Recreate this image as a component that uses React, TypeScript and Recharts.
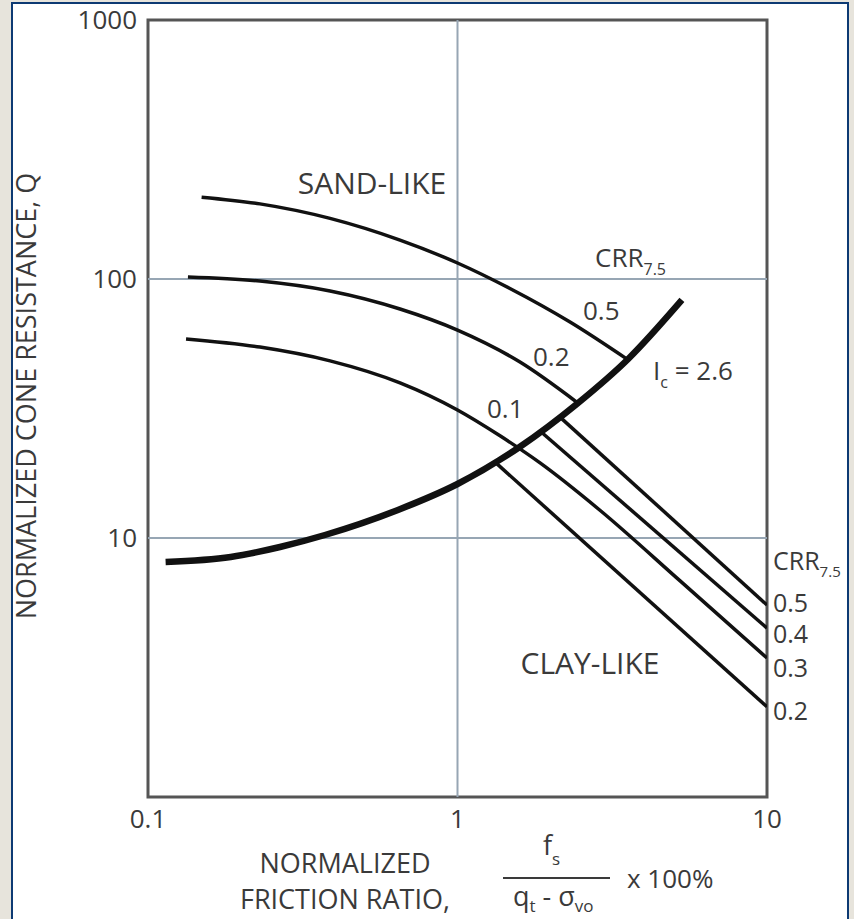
import React from 'react';
import { ComposedChart, Line, XAxis, YAxis, ReferenceLine, ReferenceArea } from 'recharts';

// Ic = 2.6 boundary
const icX = [0.114, 0.185, 0.267, 0.373, 0.642, 1.0, 1.592, 2.43, 3.56, 5.31];
const icQ = [8.08, 8.45, 9.23, 10.27, 12.83, 16.16, 22.5, 32.9, 49.1, 83];

// sand-like CRR curves
const sand05X = [0.149, 0.23, 0.3875, 0.652, 1.0, 1.477, 2.31, 3.56];
const sand05Q = [207, 195, 171.4, 141.3, 115.3, 91.9, 68.2, 48.7];
const sand02X = [0.1346, 0.23, 0.3875, 0.652, 1.0, 1.592, 2.45];
const sand02Q = [101.8, 98.2, 89.9, 76.6, 63.5, 47.8, 33.2];
// 0.1 curve, runs on into the clay-like 0.3 line
const sand01X = [0.1327, 0.23, 0.3875, 0.652, 1.0, 1.372, 1.848, 2.886, 5.24, 10];
const sand01Q = [58.7, 54.6, 48.3, 39.7, 31.2, 24.8, 19.5, 12.8, 6.83, 3.44];

// clay-like CRR lines
const clay05X = [2.144, 10];
const clay05Q = [29.3, 5.51];
const clay04X = [1.848, 10];
const clay04Q = [25.9, 4.49];
const clay02X = [1.312, 10];
const clay02Q = [19.8, 2.23];

const xTicks = [0.1, 1, 10];
const yTicks = [10, 100, 1000];

const pts = (xs: number[], qs: number[]) => xs.map((x, i) => ({ x, q: qs[i] }));

const FONT = "'Open Sans', sans-serif";
const TXT = '#3a3a3a';

const App = () => {
  const tickStyle = { fill: TXT, fontSize: 26, fontFamily: FONT };
  const curve = (key: string, data: any[], w = 3.5, kind: any = 'monotone') => (
    <Line
      key={key}
      data={data}
      dataKey="q"
      type={kind}
      stroke="#111"
      strokeWidth={w}
      dot={false}
      activeDot={false}
      isAnimationActive={false}
    />
  );

  return (
    <div style={{ position: 'absolute', left: 0, top: 0, width: 854, height: 919, background: '#e7e4dc', overflow: 'hidden' }}>
      <div
        style={{
          position: 'absolute', left: 11, top: 2, width: 838, height: 940,
          border: '2px solid #0d3a73', background: '#fff', boxSizing: 'border-box',
        }}
      />
      <div style={{ position: 'absolute', left: 0, top: 0 }}>
        <ComposedChart width={854} height={919} margin={{ top: 20, right: 87, left: 0, bottom: 0 }}>
          <XAxis
            dataKey="x"
            type="number"
            scale="log"
            domain={[0.1, 10]}
            ticks={xTicks}
            allowDataOverflow
            axisLine={false}
            tickLine={false}
            tickSize={0}
            tickMargin={13}
            height={122}
            tick={tickStyle}
            tickFormatter={(v: number) => String(v)}
          />
          <YAxis
            type="number"
            scale="log"
            domain={[1, 1000]}
            ticks={yTicks}
            allowDataOverflow
            axisLine={false}
            tickLine={false}
            tickSize={0}
            tickMargin={11}
            width={148}
            tick={tickStyle}
          />
          <ReferenceLine x={1} stroke="#97a6b4" strokeWidth={2} />
          <ReferenceLine y={10} stroke="#97a6b4" strokeWidth={2} />
          <ReferenceLine y={100} stroke="#97a6b4" strokeWidth={2} />
          <ReferenceArea x1={0.1} x2={10} y1={1} y2={1000} fill="none" stroke="#555" strokeWidth={3} />
          {curve('ic', pts(icX, icQ), 6.5)}
          {curve('s05', pts(sand05X, sand05Q))}
          {curve('s02', pts(sand02X, sand02Q))}
          {curve('s01', pts(sand01X, sand01Q))}
          {curve('c05', pts(clay05X, clay05Q), 3.5, 'linear')}
          {curve('c04', pts(clay04X, clay04Q), 3.5, 'linear')}
          {curve('c02', pts(clay02X, clay02Q), 3.5, 'linear')}
        </ComposedChart>
      </div>
      <svg
        width={854}
        height={919}
        style={{ position: 'absolute', left: 0, top: 0, pointerEvents: 'none' }}
        fontFamily={FONT}
        fill={TXT}
      >
        <text x={372} y={194} fontSize={30} textAnchor="middle">SAND-LIKE</text>
        <text x={590} y={674} fontSize={30} textAnchor="middle">CLAY-LIKE</text>

        <text x={595} y={267} fontSize={26}>
          CRR<tspan fontSize={16} dy={8}>7.5</tspan>
        </text>
        <text x={583} y={320} fontSize={26}>0.5</text>
        <text x={533} y={366} fontSize={26}>0.2</text>
        <text x={487} y={418} fontSize={26}>0.1</text>
        <text x={653} y={380} fontSize={26}>
          I<tspan fontSize={16} dy={8}>c</tspan>
          <tspan dy={-8}> = 2.6</tspan>
        </text>

        <text x={773} y={570} fontSize={25}>
          CRR<tspan fontSize={15} dy={7}>7.5</tspan>
        </text>
        <text x={773} y={612} fontSize={25}>0.5</text>
        <text x={773} y={643} fontSize={25}>0.4</text>
        <text x={773} y={677} fontSize={25}>0.3</text>
        <text x={773} y={720} fontSize={25}>0.2</text>

        <text x={36} y={396} fontSize={27} textAnchor="middle" transform="rotate(-90, 36, 396)">
          NORMALIZED CONE RESISTANCE, Q
        </text>

        <text x={345} y={873} fontSize={27} textAnchor="middle">NORMALIZED</text>
        <text x={345} y={909} fontSize={27} textAnchor="middle">FRICTION RATIO,</text>

        <text x={543} y={855} fontSize={27}>
          f<tspan fontSize={17} dy={10}>s</tspan>
        </text>
        <line x1={503} y1={878} x2={610} y2={878} stroke={TXT} strokeWidth={2} />
        <text x={513} y={906} fontSize={27}>
          q<tspan fontSize={17} dy={6}>t</tspan>
          <tspan dy={-6}> - σ</tspan>
          <tspan fontSize={17} dy={6}>vo</tspan>
        </text>
        <text x={627} y={888} fontSize={26}>x 100%</text>
      </svg>
    </div>
  );
};

export default App;
